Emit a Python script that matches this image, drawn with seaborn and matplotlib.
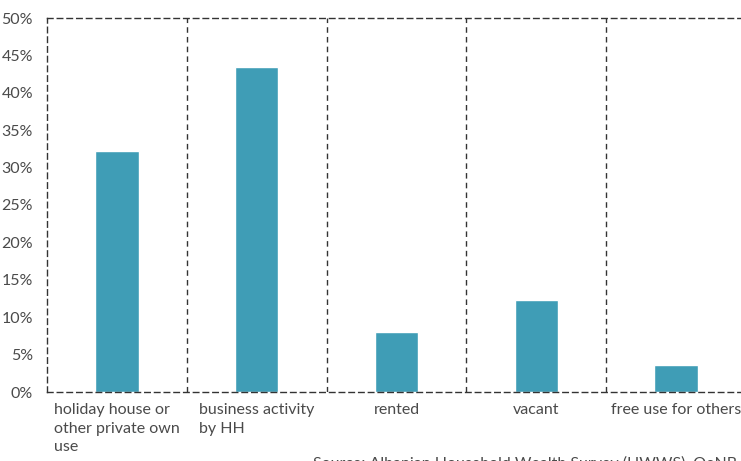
import matplotlib
matplotlib.use("Agg")
import pandas as pd
from matplotlib import pyplot as plt
import seaborn as sns

# data
categories = ["holiday house or\nother private own\nuse", "business activity\nby HH", "rented", "vacant", "free use for others"]
shares = [32.2, 43.4, 8.0, 12.3, 3.6]
yticks = [0, 5, 10, 15, 20, 25, 30, 35, 40, 45, 50]
ytick_labels = [f"{v}%" for v in yticks]

sns.set_style("white")
plt.rcParams['font.family'] = ['Lato', 'DejaVu Sans']

df = pd.DataFrame({"cat": categories, "share": shares})

fig = plt.figure(figsize=(7.41, 4.61), dpi=100)
ax = fig.add_axes([47/741, 1 - 392/461, 699/741, 374/461])
sns.barplot(data=df, x="cat", y="share", color="#3f9db6", width=0.31, saturation=1, ax=ax)

ax.set_xlim(-0.5, 4.5)
ax.set_ylim(0, 50)
ax.set_yticks(yticks)
ax.set_yticklabels(ytick_labels, fontsize=11.5, color="#4a4a4a")
ax.set_xticks(range(len(categories)))
ax.set_xticklabels(categories, fontsize=11.5, color="#4a4a4a",
                   ha="center", va="top", multialignment="left", linespacing=1.4)
ax.tick_params(axis="y", length=0, pad=10)
ax.tick_params(axis="x", length=0, pad=8)
ax.set_xlabel("")
ax.set_ylabel("")

# dashed frame and separators
for side in ["left", "bottom", "top"]:
    ax.spines[side].set_linestyle((0, (4, 3)))
    ax.spines[side].set_color("#333333")
    ax.spines[side].set_linewidth(1)
ax.spines["right"].set_visible(False)
for x in [0.5, 1.5, 2.5, 3.5]:
    ax.axvline(x, color="#333333", linestyle=(0, (4, 3)), linewidth=1)

fig.text(313/741, -0.022, "Source: Albanian Household Wealth Survey (HWWS), OeNB",
         fontsize=11.5, color="#4a4a4a", ha="left", va="bottom")

fig.savefig("out.png", dpi=100)
